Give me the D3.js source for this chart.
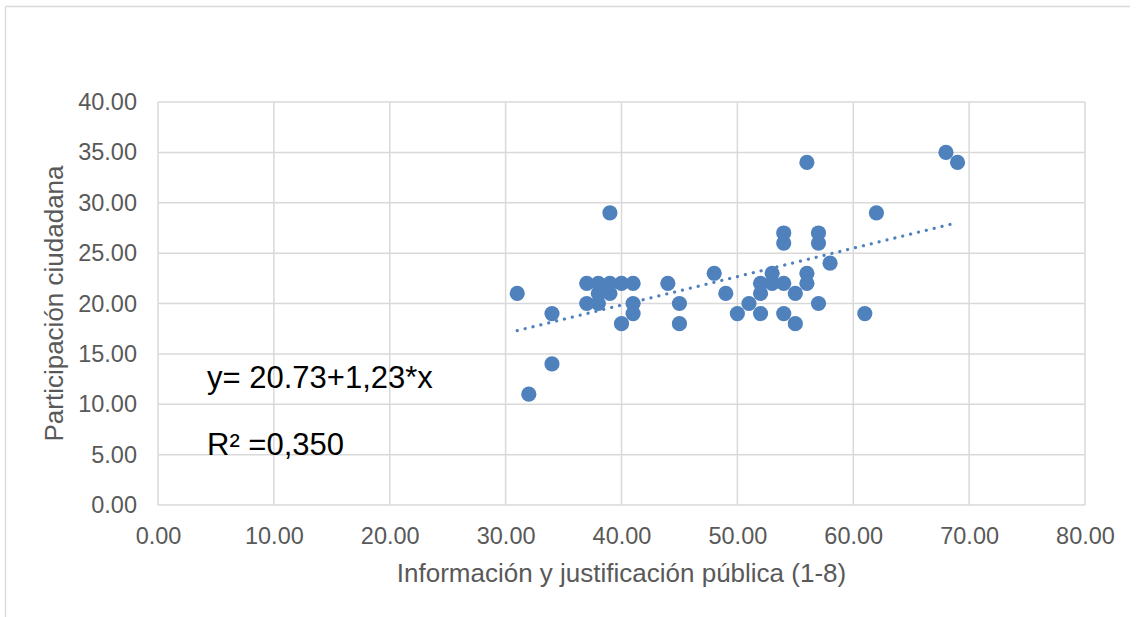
<!DOCTYPE html>
<html>
<head>
<meta charset="utf-8">
<script src="https://cdn.jsdelivr.net/npm/d3@7"></script>
<style>
  body { margin:0; background:#fff; }
  svg { display:block; font-family: "Liberation Sans", Arial, sans-serif; }
</style>
</head>
<body>
<div id="chart"></div>
<script>
// Scatter: Participación ciudadana vs Información y justificación pública
const xVals = [31,32,34,34,37,37,38,38,38,39,39,39,40,40,41,41,41,44,45,45,48,49,50,51,
               52,52,52,53,53,54,54,54,54,55,55,56,56,56,57,57,57,58,61,62,68,69];
const yVals = [21,11,19,14,22,20,22,21,20,29,22,21,22,18,22,20,19,22,20,18,23,21,19,20,
               22,21,19,23,22,27,26,22,19,21,18,34,23,22,27,26,20,24,19,29,35,34];
const xTicks = [0,10,20,30,40,50,60,70,80];
const yTicks = [0,5,10,15,20,25,30,35,40];
const eqLabel = 'y= 20.73+1,23*x';
const r2Label = 'R² =0,350';

(function(){
  const width = 1140, height = 617;
  const margin = {top:102, right:55, bottom:112, left:158};
  const innerW = 1085 - margin.left;
  const innerH = 505 - margin.top;
  const blue = '#4F81BD';

  const data = xVals.map((x,i) => ({x, y:yVals[i]}));

  const svg = d3.select('#chart').append('svg')
    .attr('width', width)
    .attr('height', height);

  // outer chart frame (top and left edges visible)
  svg.append('line').attr('x1',5.5).attr('x2',1130).attr('y1',6.5).attr('y2',6.5)
    .attr('stroke','#d9d9d9').attr('stroke-width',1.3);
  svg.append('line').attr('x1',5.5).attr('x2',5.5).attr('y1',6.5).attr('y2',617)
    .attr('stroke','#d9d9d9').attr('stroke-width',1.3);

  const g = svg.append('g')
    .attr('transform', `translate(${margin.left},${margin.top})`);

  const x = d3.scaleLinear().domain([0,80]).range([0, innerW]);
  const y = d3.scaleLinear().domain([0,40]).range([innerH, 0]);

  // gridlines
  g.append('g').selectAll('line').data(yTicks).enter().append('line')
    .attr('x1',0).attr('x2',innerW)
    .attr('y1',d=>y(d)).attr('y2',d=>y(d))
    .attr('stroke','#d9d9d9').attr('stroke-width',1.5);
  g.append('g').selectAll('line').data(xTicks).enter().append('line')
    .attr('y1',0).attr('y2',innerH)
    .attr('x1',d=>x(d)).attr('x2',d=>x(d))
    .attr('stroke','#d9d9d9').attr('stroke-width',1.5);

  // axes (labels only)
  const xAxis = g.append('g')
    .attr('transform', `translate(0,${innerH})`)
    .call(d3.axisBottom(x).tickValues(xTicks).tickFormat(d3.format('.2f')).tickSize(0).tickPadding(22));
  const yAxis = g.append('g')
    .call(d3.axisLeft(y).tickValues(yTicks).tickFormat(d3.format('.2f')).tickSize(0).tickPadding(21));
  [xAxis, yAxis].forEach(a => {
    a.select('.domain').remove();
    a.selectAll('text').attr('font-size','23.5px').attr('fill','#595959')
      .attr('font-family','"Liberation Sans", Arial, sans-serif');
  });

  // axis titles
  svg.append('text')
    .attr('x', margin.left + innerW/2)
    .attr('y', 582)
    .attr('text-anchor','middle')
    .attr('font-size','26px')
    .attr('fill','#595959')
    .text('Información y justificación pública (1-8)');
  svg.append('text')
    .attr('transform', `translate(63,${margin.top + innerH/2}) rotate(-90)`)
    .attr('text-anchor','middle')
    .attr('font-size','26px')
    .attr('fill','#595959')
    .text('Participación ciudadana');

  // linear trendline (least squares)
  const mx = d3.mean(data, d=>d.x), my = d3.mean(data, d=>d.y);
  const slope = d3.sum(data, d=>(d.x-mx)*(d.y-my)) / d3.sum(data, d=>(d.x-mx)**2);
  const icpt = my - slope*mx;
  const [x0, x1] = d3.extent(data, d=>d.x);
  g.append('line')
    .attr('x1', x(x0)).attr('y1', y(icpt + slope*x0))
    .attr('x2', x(x1)).attr('y2', y(icpt + slope*x1))
    .attr('stroke', blue)
    .attr('stroke-width', 3.2)
    .attr('stroke-linecap','round')
    .attr('stroke-dasharray','0.1 8');

  // points
  g.selectAll('circle').data(data).enter().append('circle')
    .attr('cx', d=>x(d.x))
    .attr('cy', d=>y(d.y))
    .attr('r', 7.6)
    .attr('fill', blue);

  // equation annotations
  svg.append('text').attr('x',207).attr('y',388)
    .attr('font-size','31px').attr('fill','#000').text(eqLabel);
  svg.append('text').attr('x',207).attr('y',455)
    .attr('font-size','31px').attr('fill','#000').text(r2Label);
})();
</script>
</body>
</html>
